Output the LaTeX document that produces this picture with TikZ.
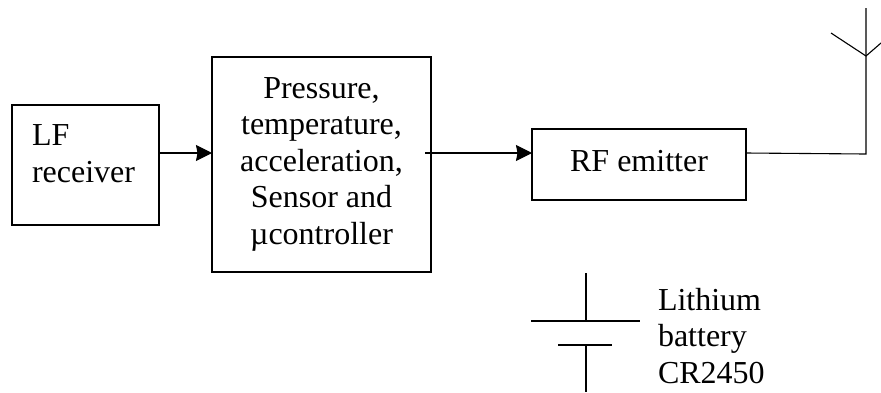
\documentclass[tikz,border=0pt]{standalone}
\usepackage{fontspec}
\setmainfont{Liberation Serif}
\usetikzlibrary{arrows.meta}
\tikzset{
  every picture/.style={x=1pt,y=-1pt},
  boxnode/.style={draw=black,line width=1.2pt,inner sep=0pt,outer sep=0pt,fill=white},
  lbl/.style={inner sep=0pt,outer sep=0pt,align=left,anchor=north west,font=\fontsize{32}{36.5}\selectfont},
  ctr/.style={inner sep=0pt,outer sep=0pt,align=center,font=\fontsize{32}{36.5}\selectfont},
  wire/.style={line width=1.1pt,draw=black},
  arrowwire/.style={wire,-{Stealth[length=16pt,width=16pt,inset=1.5pt]}}
}
\begin{document}
\begin{tikzpicture}
\useasboundingbox (0,0) rectangle (881,392);
\node[boxnode,minimum width=147pt,minimum height=120pt] (lf) at (85.5,165) {};
\node[lbl] (lft) at (32,125) {LF\\receiver};
\node[boxnode,minimum width=219pt,minimum height=215pt] (sensor) at (321.5,164.5) {};
\node[ctr] (sensort) at (321.5,164) {Pressure,\\temperature,\\acceleration,\\Sensor and\\µcontroller};
\node[boxnode,minimum width=214pt,minimum height=71pt] (rf) at (639,164.5) {};
\node[ctr] (rft) at (639,161) {RF emitter};
\coordinate (lfout) at (159,153);
\coordinate (senin) at (212,153);
\coordinate (senout) at (425,153);
\coordinate (rfin) at (532,153);
\coordinate (rfout) at (746,153);
\coordinate (corner) at (866,154);
\coordinate (anttop) at (866,8);
\coordinate (antbase) at (866,56);
\coordinate (antl) at (831,33);
\coordinate (antr) at (881,43);
\draw[arrowwire] (lfout) -- (senin);
\draw[arrowwire] (senout) -- (rfin);
\draw[wire] (rfout) -- (corner) -- (anttop);
\draw[wire] (antl) -- (antbase) -- (antr);
\coordinate (bt) at (586,273);
\coordinate (bp) at (586,321);
\coordinate (bn) at (586,345);
\coordinate (bb) at (586,392);
\draw[wire] (bt) -- (bp);
\draw[wire] (531,321) -- (640,321);
\draw[wire] (558,345) -- (612,345);
\draw[wire] (bn) -- (bb);
\node[lbl] (batt) at (658,288) {Lithium\\battery\\CR2450};
\end{tikzpicture}
\end{document}
